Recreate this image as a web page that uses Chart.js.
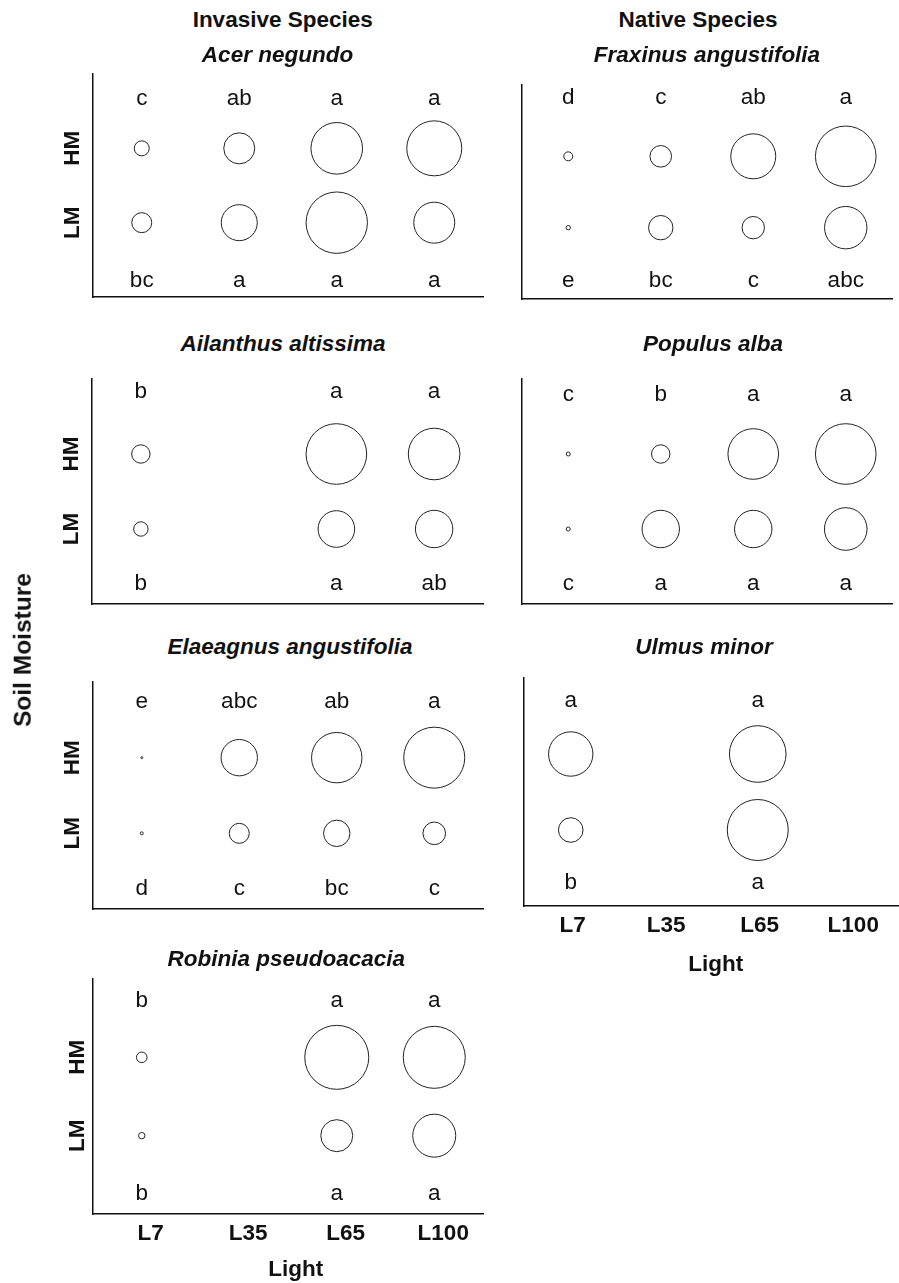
<!DOCTYPE html>
<html>
<head>
<meta charset="utf-8">
<script src="https://cdn.jsdelivr.net/npm/chart.js@4.4.1/dist/chart.umd.min.js"></script>
<style>
html, body { margin: 0; padding: 0; width: 899px; height: 1283px; overflow: hidden; background: #fff; }
canvas { position: absolute; }
.txt { position: absolute; white-space: nowrap; font-family: "Liberation Sans", Arial, Helvetica, sans-serif;
       font-weight: bold; color: #111; line-height: 1; font-size: 22.5px; transform: translateX(-50%); z-index: 5; }
.it { font-style: italic; }
.rot { transform: translate(-50%, -50%) rotate(-90deg); font-size: 24.5px; }
</style>
</head>
<body>
<script>
// ---------- data ----------
const lightLevels = ['L7', 'L35', 'L65', 'L100'];
const moistureLevels = ['LM', 'HM'];          // y = 1, y = 2

// bubble sizes (radius, px) per light level, HM and LM rows
const acerHM = [7.5, 15.5, 25.8, 27.5];
const acerLM = [10, 18, 30.7, 20.5];
const acerHMLetters = ['c', 'ab', 'a', 'a'];
const acerLMLetters = ['bc', 'a', 'a', 'a'];

const fraxinusHM = [4.5, 10.8, 22.5, 30.3];
const fraxinusLM = [2.2, 12.2, 11.2, 21.2];
const fraxinusHMLetters = ['d', 'c', 'ab', 'a'];
const fraxinusLMLetters = ['e', 'bc', 'c', 'abc'];

const ailanthusHM = [9.2, null, 30.3, 25.8];
const ailanthusLM = [7.2, null, 18.3, 18.7];
const ailanthusHMLetters = ['b', '', 'a', 'a'];
const ailanthusLMLetters = ['b', '', 'a', 'ab'];

const populusHM = [2, 9.2, 25.3, 30.3];
const populusLM = [2, 18.7, 18.7, 21.3];
const populusHMLetters = ['c', 'b', 'a', 'a'];
const populusLMLetters = ['c', 'a', 'a', 'a'];

const elaeagnusHM = [1, 18.2, 25.2, 30.5];
const elaeagnusLM = [1.5, 10, 13.2, 11.3];
const elaeagnusHMLetters = ['e', 'abc', 'ab', 'a'];
const elaeagnusLMLetters = ['d', 'c', 'bc', 'c'];

const ulmusHM = [22.2, null, 28.3, null];
const ulmusLM = [12.3, null, 30.5, null];
const ulmusHMLetters = ['a', '', 'a', ''];
const ulmusLMLetters = ['b', '', 'a', ''];

const robiniaHM = [5.3, null, 32, 31];
const robiniaLM = [3.2, null, 16, 21.5];
const robiniaHMLetters = ['b', '', 'a', 'a'];
const robiniaLMLetters = ['b', '', 'a', 'a'];

// ---------- layout ----------
const FONT = '"Liberation Sans", Arial, Helvetica, sans-serif';
const panels = [
  { hm: acerHM, lm: acerLM, hmL: acerHMLetters, lmL: acerLMLetters,
    left: 93, right: 483, top: 74, bottom: 297, showY: true, showX: false, topAt: 2.58, botAt: 0.135, yPad: 3, xOff: 0 },
  { hm: fraxinusHM, lm: fraxinusLM, hmL: fraxinusHMLetters, lmL: fraxinusLMLetters,
    left: 522, right: 892, top: 85, bottom: 299, showY: false, showX: false, topAt: 2.73, botAt: 0.17, yPad: 3, xOff: 0 },
  { hm: ailanthusHM, lm: ailanthusLM, hmL: ailanthusHMLetters, lmL: ailanthusLMLetters,
    left: 92, right: 483, top: 379, bottom: 604, showY: true, showX: false, topAt: 2.75, botAt: 0.19, yPad: 3, xOff: 0 },
  { hm: populusHM, lm: populusLM, hmL: populusHMLetters, lmL: populusLMLetters,
    left: 522, right: 892, top: 379, bottom: 604, showY: false, showX: false, topAt: 2.71, botAt: 0.19, yPad: 3, xOff: 0 },
  { hm: elaeagnusHM, lm: elaeagnusLM, hmL: elaeagnusHMLetters, lmL: elaeagnusLMLetters,
    left: 93, right: 483, top: 682, bottom: 909, showY: true, showX: false, topAt: 2.66, botAt: 0.18, yPad: 3, xOff: 0 },
  { hm: ulmusHM, lm: ulmusLM, hmL: ulmusHMLetters, lmL: ulmusLMLetters,
    left: 524, right: 898, top: 678, bottom: 906, showY: false, showX: true, topAt: 2.62, botAt: 0.22, yPad: 3, xOff: 2 },
  { hm: robiniaHM, lm: robiniaLM, hmL: robiniaHMLetters, lmL: robiniaLMLetters,
    left: 93, right: 483, top: 979, bottom: 1214, showY: true, showX: true, topAt: 2.64, botAt: 0.18, yPad: -2, xOff: 9 }
];

const texts = [
  { t: 'Invasive Species', x: 282.7, bl: 28.3, it: false },
  { t: 'Native Species', x: 698, bl: 28.3, it: false },
  { t: 'Acer negundo', x: 277.5, bl: 62.7, it: true },
  { t: 'Fraxinus angustifolia', x: 707, bl: 62.7, it: true },
  { t: 'Ailanthus altissima', x: 283, bl: 352, it: true },
  { t: 'Populus alba', x: 713, bl: 352, it: true },
  { t: 'Elaeagnus angustifolia', x: 290, bl: 655, it: true },
  { t: 'Ulmus minor', x: 704, bl: 655, it: true },
  { t: 'Robinia pseudoacacia', x: 286.3, bl: 966.7, it: true },
  { t: 'Light', x: 715.8, bl: 971.7, it: false },
  { t: 'Light', x: 295.8, bl: 1277.3, it: false }
];

function toPoints(arr, yv) {
  const out = [];
  arr.forEach((r, i) => { if (r != null) out.push({ x: i + 1, y: yv, r: r }); });
  return out;
}

function makePanel(p) {
  const W = 60, PT = 20, PR = 6, H = p.showX ? 50 : 22;
  const cw = p.right - p.left + W + PR;
  const ch = p.bottom - p.top + PT + H;
  const c = document.createElement('canvas');
  c.width = cw; c.height = ch;
  c.style.left = (p.left - W) + 'px';
  c.style.top = (p.top - PT) + 'px';
  c.style.width = cw + 'px';
  c.style.height = ch + 'px';
  document.body.appendChild(c);

  const letters = {
    id: 'sigLetters',
    afterDatasetsDraw(chart) {
      const { ctx, scales } = chart;
      ctx.save();
      ctx.font = '22.5px ' + FONT;
      ctx.fillStyle = '#111';
      ctx.textAlign = 'center';
      ctx.textBaseline = 'alphabetic';
      [[p.hmL, p.topAt], [p.lmL, p.botAt]].forEach(([labs, at]) => {
        labs.forEach((t, i) => {
          if (t) ctx.fillText(t, scales.x.getPixelForValue(i + 1), scales.y.getPixelForValue(at));
        });
      });
      ctx.restore();
    }
  };

  const ds = (data) => ({
    data: data,
    backgroundColor: 'rgba(0,0,0,0)',
    borderColor: '#222',
    borderWidth: 1,
    hoverBorderWidth: 1,
    hoverRadius: 0
  });

  new Chart(c, {
    type: 'bubble',
    data: { datasets: [ds(toPoints(p.hm, 2)), ds(toPoints(p.lm, 1))] },
    options: {
      responsive: false,
      animation: false,
      events: [],
      layout: { autoPadding: false, padding: { top: PT, right: PR, left: 0, bottom: 0 } },
      plugins: { legend: { display: false }, tooltip: { enabled: false } },
      scales: {
        x: {
          type: 'linear', min: 0.5, max: 4.5,
          grid: { display: false, drawTicks: false },
          border: { display: true, color: '#111', width: 1.5 },
          afterBuildTicks: (s) => { s.ticks = lightLevels.map((_, i) => ({ value: i + 1 })); },
          afterFit: (s) => { s.height = H; },
          ticks: {
            display: p.showX, autoSkip: false, maxRotation: 0, minRotation: 0,
            callback: (v) => lightLevels[v - 1],
            font: { family: FONT, size: 22.5, weight: 'bold' }, color: '#111',
            padding: 6.5, labelOffset: p.xOff
          }
        },
        y: {
          type: 'linear', min: 0, max: 3,
          grid: { display: false, drawTicks: false },
          border: { display: true, color: '#111', width: 1.5 },
          afterBuildTicks: (s) => { s.ticks = moistureLevels.map((_, i) => ({ value: i + 1 })); },
          afterFit: (s) => { s.width = W; },
          ticks: {
            display: p.showY, autoSkip: false, minRotation: 90, maxRotation: 90, crossAlign: 'center',
            callback: (v) => moistureLevels[v - 1],
            font: { family: FONT, size: 22.5, weight: 'bold' }, color: '#111',
            padding: p.yPad
          }
        }
      }
    },
    plugins: [letters]
  });
}

panels.forEach(makePanel);

texts.forEach((o) => {
  const d = document.createElement('div');
  d.className = 'txt' + (o.it ? ' it' : '');
  d.textContent = o.t;
  d.style.left = o.x + 'px';
  d.style.top = (o.bl - 0.8465 * 22.5) + 'px';
  document.body.appendChild(d);
});

const sm = document.createElement('div');
sm.className = 'txt rot';
sm.textContent = 'Soil Moisture';
sm.style.left = '23px';
sm.style.top = '650px';
document.body.appendChild(sm);
</script>
</body>
</html>
